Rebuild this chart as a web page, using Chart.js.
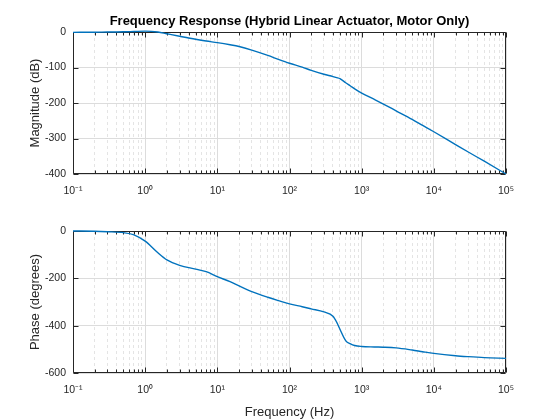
<!DOCTYPE html>
<html>
<head>
<meta charset="utf-8">
<script src="https://cdn.jsdelivr.net/npm/chart.js@4"></script>
<style>
  html, body { margin: 0; padding: 0; background: #fff; }
  #page { position: relative; width: 560px; height: 420px; }
  .pane { position: absolute; left: 0; width: 560px; }
</style>
</head>
<body>
<div id="page">
  <div class="pane" style="top:0;height:200px"><canvas id="magChart"></canvas></div>
  <div class="pane" style="top:200px;height:220px"><canvas id="phaseChart"></canvas></div>
</div>
<script>
// frequency points (Hz)
const freqHz = [0.1, 0.2, 0.3, 0.5, 0.7, 1, 1.5, 2, 3, 5, 7, 10, 15, 20, 30, 50, 70,
  100, 150, 200, 300, 400, 450, 500, 600, 700, 800, 1000, 1500, 2000, 3000,
  5000, 7000, 10000, 20000, 30000, 50000, 100000];
// magnitude in dB
const magDb = [-1, -0.5, 0, 0.5, 1.5, 2.5, 0, -5, -12, -20.5, -25.5, -30, -36, -41, -51, -66, -77,
  -88, -99, -108, -119, -125.5, -128.5, -131.5, -143, -152, -160, -172, -190, -203, -222,
  -246, -263, -281, -317, -338, -364, -400];
// phase in degrees
const phaseDeg = [0, -1, -3, -7, -16, -43, -92, -122, -145, -161, -172, -193, -214, -232, -256, -280, -294,
  -308, -320, -329, -342, -360, -385, -415, -463, -477, -484, -488, -490, -491, -494,
  -503, -510, -517, -527, -531, -535, -538];

const decades = [-1, 0, 1, 2, 3, 4, 5];
const magTicks = [-400, -300, -200, -100, 0];
const phaseTicks = [-600, -400, -200, 0];

const lineBlue = "#0072BD";
const axisGrey = "#262626";
const sup = { "-": "\u207B", "0": "\u2070", "1": "\u00B9", "2": "\u00B2", "3": "\u00B3", "4": "\u2074", "5": "\u2075" };

function isDecade(v) {
  const l = Math.log10(v);
  return Math.abs(l - Math.round(l)) < 1e-6;
}

// 1..9 x 10^n for every decade on the axis
function logTicks() {
  const out = [];
  for (let d = decades[0]; d < decades[decades.length - 1]; d++) {
    for (let m = 1; m < 10; m++) out.push({ value: m * Math.pow(10, d) });
  }
  out.push({ value: Math.pow(10, decades[decades.length - 1]) });
  return out;
}

function decadeLabel(v) {
  if (!isDecade(v)) return "";
  const e = String(Math.round(Math.log10(v)));
  return "10" + e.split("").map(c => sup[c]).join("");
}

// matlab style box with inward ticks, drawn under the line
const boxPlugin = {
  id: "box",
  beforeDatasetsDraw(chart) {
    const { ctx, chartArea: a, scales } = chart;
    const L = Math.round(a.left) + 0.5, R = Math.round(a.right) - 0.5;
    const T = Math.round(a.top) + 0.5, B = Math.round(a.bottom) - 0.5;
    ctx.save();
    ctx.strokeStyle = axisGrey;
    ctx.lineWidth = 1;
    ctx.beginPath();
    scales.x.ticks.forEach(t => {
      const px = Math.round(scales.x.getPixelForValue(t.value)) + 0.5;
      const len = isDecade(t.value) ? 5 : 3;
      ctx.moveTo(px, B); ctx.lineTo(px, B - len);
      ctx.moveTo(px, T); ctx.lineTo(px, T + len);
    });
    scales.y.ticks.forEach(t => {
      const py = Math.round(scales.y.getPixelForValue(t.value)) + 0.5;
      ctx.moveTo(L, py); ctx.lineTo(L + 5, py);
      ctx.moveTo(R, py); ctx.lineTo(R - 5, py);
    });
    ctx.rect(L, T, R - L, B - T);
    ctx.stroke();
    ctx.restore();
  }
};

function makeChart(id, values, yTicks, opts) {
  const ctx = document.getElementById(id).getContext("2d");
  return new Chart(ctx, {
    type: "line",
    data: {
      datasets: [{
        data: freqHz.map((f, i) => ({ x: f, y: values[i] })),
        borderColor: lineBlue,
        borderWidth: 1.4,
        pointRadius: 0,
        cubicInterpolationMode: "monotone",
        clip: 2,
        fill: false
      }]
    },
    options: {
      responsive: true,
      maintainAspectRatio: false,
      animation: false,
      layout: { padding: { left: 0, right: 54, top: opts.padTop, bottom: 0 } },
      scales: {
        x: {
          type: "logarithmic",
          min: 0.1,
          max: 100000,
          afterBuildTicks: scale => { scale.ticks = logTicks(); },
          afterFit: scale => { scale.height = opts.xHeight; },
          grid: {
            drawTicks: false,
            color: c => (c.tick && isDecade(c.tick.value)) ? "#dcdcdc" : "#e4e4e4",
            lineWidth: 1
          },
          border: {
            display: false,
            dash: c => (c.tick && !isDecade(c.tick.value)) ? [3, 3] : []
          },
          ticks: {
            autoSkip: false,
            maxRotation: 0,
            padding: 11,
            color: axisGrey,
            font: { family: "'Liberation Sans', Arial, sans-serif", size: 10.5 },
            callback: v => decadeLabel(v)
          },
          title: {
            display: !!opts.xTitle,
            text: opts.xTitle || "",
            color: axisGrey,
            padding: { top: 6, bottom: 0 },
            font: { family: "'Liberation Sans', Arial, sans-serif", size: 13 }
          }
        },
        y: {
          min: yTicks[0],
          max: yTicks[yTicks.length - 1],
          afterBuildTicks: scale => { scale.ticks = yTicks.map(v => ({ value: v })); },
          afterFit: scale => { scale.width = 73; },
          grid: { drawTicks: false, color: "#dcdcdc", lineWidth: 1 },
          border: { display: false },
          ticks: {
            padding: 7,
            color: axisGrey,
            font: { family: "'Liberation Sans', Arial, sans-serif", size: 10.5 }
          },
          title: {
            display: true,
            text: opts.yTitle,
            color: axisGrey,
            padding: { top: 28, bottom: 0 },
            font: { family: "'Liberation Sans', Arial, sans-serif", size: 13 }
          }
        }
      },
      plugins: {
        legend: { display: false },
        tooltip: { enabled: false },
        title: {
          display: !!opts.title,
          text: opts.title || "",
          fullSize: false,
          color: "#000",
          padding: { top: 14, bottom: 2.4 },
          font: { family: "'Liberation Sans', Arial, sans-serif", size: 13, weight: "bold" }
        }
      }
    },
    plugins: [boxPlugin]
  });
}

makeChart("magChart", magDb, magTicks, {
  padTop: 0,
  xHeight: 26,
  yTitle: "Magnitude (dB)",
  title: "Frequency Response (Hybrid Linear Actuator, Motor Only)"
});
makeChart("phaseChart", phaseDeg, phaseTicks, {
  padTop: 31,
  xHeight: 47,
  yTitle: "Phase (degrees)",
  xTitle: "Frequency (Hz)"
});
</script>
</body>
</html>
